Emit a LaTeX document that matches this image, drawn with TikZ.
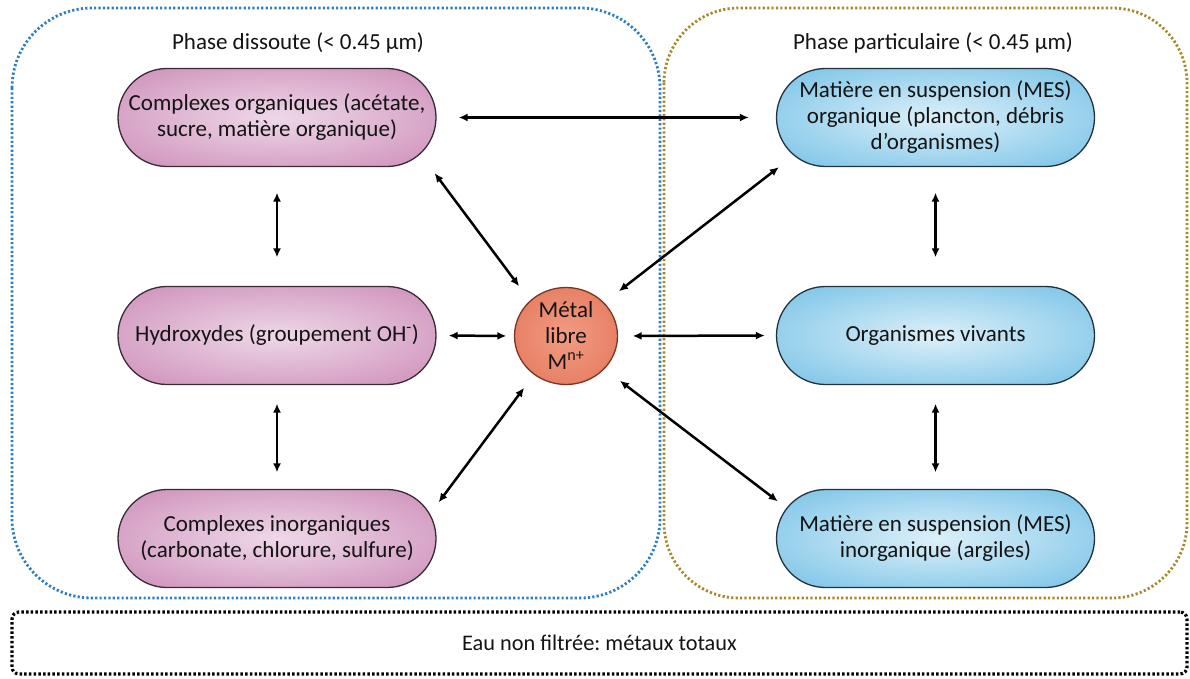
\documentclass[tikz,border=0pt]{standalone}
\usepackage{fontspec}
\setmainfont{Carlito}
\usetikzlibrary{shapes.geometric,arrows.meta,calc}
\definecolor{pinkD}{HTML}{C070A6}
\definecolor{pinkL}{HTML}{EED8E8}
\definecolor{blueD}{HTML}{4EAFDF}
\definecolor{blueL}{HTML}{DCF0F9}
\definecolor{metD}{HTML}{DC664A}
\definecolor{metL}{HTML}{F29C82}
\definecolor{dotblue}{HTML}{2E7EC2}
\definecolor{dotgold}{HTML}{A8892A}
\definecolor{txt}{HTML}{141414}
\definecolor{edgeP}{HTML}{3A2A33}
\definecolor{edgeB}{HTML}{22323C}
\definecolor{edgeM}{HTML}{7A3522}
\pgfdeclareradialshading{pinkshade}{\pgfpoint{0bp}{0bp}}{color(0bp)=(pinkL); color(50bp)=(pinkD)}
\pgfdeclareradialshading{blueshade}{\pgfpoint{0bp}{0bp}}{color(0bp)=(blueL); color(50bp)=(blueD)}
\pgfdeclareradialshading{metshade}{\pgfpoint{0bp}{0bp}}{color(0bp)=(metL); color(50bp)=(metD)}
\frenchspacing
\begin{document}
\begin{tikzpicture}[x=1pt,y=-1pt,
  every node/.style={text=txt, font=\fontsize{23}{26}\selectfont},
  pill/.style={rectangle, rounded corners=49pt, minimum width=318pt, minimum height=98pt,
    inner sep=0pt, align=center, line width=1.3pt},
  pinkpill/.style={pill, draw=edgeP, shading=pinkshade},
  bluepill/.style={pill, draw=edgeB, shading=blueshade},
  metalnode/.style={ellipse, minimum width=103pt, minimum height=97pt, inner sep=0pt,
    align=center, draw=edgeM, line width=1.3pt, shading=metshade},
  arr/.style={line width=2.5pt, {Latex[length=9pt,width=8pt]}-{Latex[length=9pt,width=8pt]}},
  frameblue/.style={draw=dotblue, line width=2.8pt, dash pattern=on 2.2pt off 2.2pt, rounded corners=80pt},
  framegold/.style={draw=dotgold, line width=2.8pt, dash pattern=on 2.2pt off 2.2pt, rounded corners=75pt},
  frameblack/.style={draw=black, line width=3.2pt, dash pattern=on 2.5pt off 2.2pt, rounded corners=7pt}
]
\useasboundingbox (0,0) rectangle (1190,679);
\fill[white] (0,0) rectangle (1190,679);

% frames
\draw[frameblue] (12,8) rectangle (660,598);
\draw[framegold] (664,8) rectangle (1187,598);
\node[frameblack, minimum width=1175pt, minimum height=62pt, inner sep=0pt,
  font=\fontsize{22.3}{26}\selectfont] (total) at (599.5,643)
  {Eau non filtrée: métaux totaux};

% titles
\node (tdis) at (298,43) {Phase dissoute (< 0.45 µm)};
\node (tpar) at (933,43) {Phase particulaire (< 0.45 µm)};

% left column
\node[pinkpill] (topL) at (277,117.5) {Complexes organiques (acétate,\\sucre, matière organique)};
\node[pinkpill] (midL) at (277,335.5) {Hydroxydes (groupement OH\textsuperscript{-})};
\node[pinkpill] (botL) at (277,538.5) {Complexes inorganiques\\(carbonate, chlorure, sulfure)};

% right column
\node[bluepill] (topR) at (935.5,117.5) {Matière en suspension (MES)\\organique (plancton, débris\\d’organismes)};
\node[bluepill] (midR) at (935.5,335.5) {Organismes vivants};
\node[bluepill] (botR) at (935.5,538.5) {Matière en suspension (MES)\\inorganique (argiles)};

% centre
\node[metalnode] (metal) at (566,336) {Métal\\libre\\M\textsuperscript{n+}};

% connectors
\draw[arr, shorten <=22pt, shorten >=27pt] (topL.east) -- (topR.west);
\draw[arr, shorten <=25.5pt, shorten >=28.5pt] (topL.south) -- (midL.north);
\draw[arr, shorten <=18.5pt, shorten >=16.5pt] (midL.south) -- (botL.north);
\draw[arr, shorten <=25.5pt, shorten >=28.5pt] (topR.south) -- (midR.north);
\draw[arr, shorten <=18.5pt, shorten >=16.5pt] (midR.south) -- (botR.north);
\draw[arr, shorten <=12pt, shorten >=7.5pt] (midL.east) -- (metal.west);
\draw[arr, shorten <=14.5pt, shorten >=11pt] (metal.east) -- (midR.west);
\draw[arr] ([shift={(-2,6)}]topL.south east) -- ([shift={(-10,-15)}]metal.north west);
\draw[arr] ([shift={(3,0)}]topR.south west) -- ([shift={(16,-10)}]metal.north east);
\draw[arr] ([shift={(2,13.5)}]botL.north east) -- ([shift={(-5,17)}]metal.south west);
\draw[arr] ([shift={(17,10)}]metal.south east) -- ([shift={(2,12.5)}]botR.north west);
\end{tikzpicture}
\end{document}
